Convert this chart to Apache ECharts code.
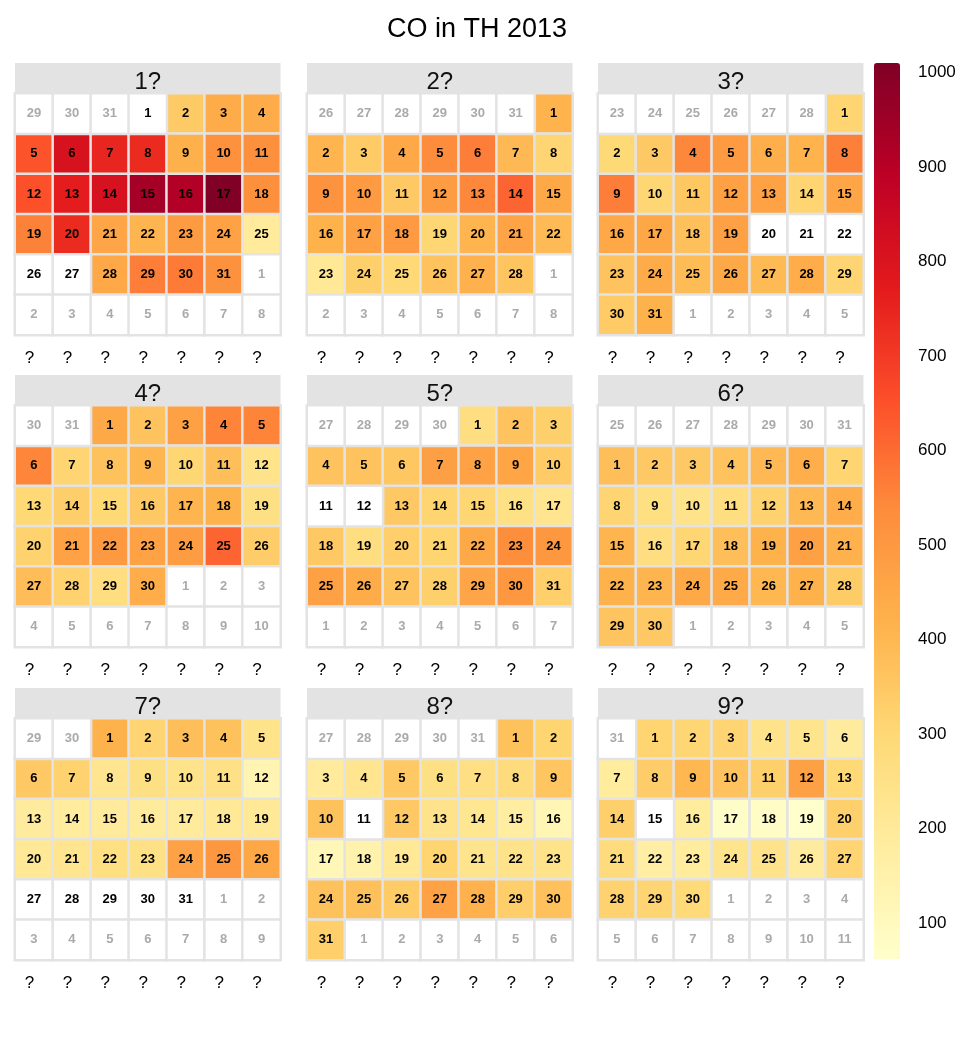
<!DOCTYPE html>
<html>
<head>
<meta charset="utf-8">
<title>CO in TH 2013</title>
<script src="https://cdn.jsdelivr.net/npm/echarts@6/dist/echarts.min.js"></script>
<style>
  html, body { margin: 0; padding: 0; background: #fff; }
  #main { width: 977px; height: 1048px; }
</style>
</head>
<body>
<div id="main"></div>
<script>
// 每月日均值 (null = 缺测)
const jan = [null, 345, 440, 440, 645, 810, 748, 736, 422, 523, 525, 650, 768, 815, 938, 910, 1010, 525, 557, 735, 455, 410, 490, 468, 195, null, null, 450, 565, 572, 520];
const feb = [415, 410, 342, 450, 538, 565, 395, 310, 518, 495, 350, 488, 545, 611, 445, 418, 475, 495, 308, 410, 462, 393, 205, 326, 300, 366, 420, 362];
const mar = [312, 295, 350, 545, 495, 428, 415, 560, 565, 308, 355, 472, 470, 310, 458, 448, 452, 375, 472, null, null, null, 366, 440, 388, 445, 393, 432, 310, 343, 418];
const apr = [445, 366, 475, 553, 553, 550, 310, 370, 405, 308, 378, 240, 298, 333, 300, 348, 410, 418, 260, 318, 470, 498, 470, 488, 611, 336, 385, 318, 270, 432];
const may = [270, 366, 326, 366, 366, 355, 478, 470, 460, 342, null, null, 348, 312, 308, 258, 225, 348, 270, 330, 312, 445, 533, 500, 475, 440, 366, 326, 455, 500, 330];
const jun = [378, 350, 350, 366, 395, 428, 312, 310, 265, 240, 268, 318, 395, 432, 410, 270, 305, 378, 418, 475, 420, 418, 410, 445, 442, 403, 418, 340, 363, 350];
const jul = [418, 310, 378, 370, 240, 348, 318, 225, 260, 240, 252, 135, 190, 188, 195, 193, 195, 205, 205, 207, 225, 265, 258, 470, 505, 452, null, null, null, null, null];
const aug = [370, 312, 195, 225, 350, 260, 262, 280, 360, 370, null, 350, 238, 222, 178, 125, 115, 145, 205, 312, 232, 240, 240, 370, 375, 342, 470, 420, 333, 372, 330];
const sep = [312, 308, 310, 240, 232, 190, 188, 338, 403, 366, 326, 475, 300, 326, null, 188, 75, 80, 62, 326, 280, 172, 188, 232, 240, 190, 310, 318, 310, 292];

const monthValues = [jan, feb, mar, apr, may, jun, jul, aug, sep];
const monthLabels = ['1?', '2?', '3?', '4?', '5?', '6?', '7?', '8?', '9?'];
const weekdayLabels = ['?', '?', '?', '?', '?', '?', '?'];
const year = 2013;
const colorMin = 62;
const colorMax = 1010;

const heatColors = ['#FFFFCC', '#FFEDA0', '#FED976', '#FEB24C', '#FD8D3C', '#FC4E2A', '#E31A1C', '#BD0026', '#800026'];
const fontFamily = '"Liberation Sans", Arial, sans-serif';

// 面板位置
const panelLeft = [15, 307, 598];
const panelTop = [63, 375, 688];
const panelWidth = 265.5;
const stripHeight = 30.5;
const cellAreaHeight = 241.5;

// 日历格子: 周六开头, 42 格; 有值的格子和空白格子分开
const buildCells = (m, values) => {
  const first = new Date(year, m, 1).getDay();
  let offset = (first - 6 + 7) % 7;
  if (offset === 0) offset = 7;
  const dim = new Date(year, m + 1, 0).getDate();
  const prevDim = new Date(year, m, 0).getDate();
  const filled = [];
  const blank = [];
  for (let i = 0; i < 42; i++) {
    const col = i % 7;
    const row = Math.floor(i / 7);
    if (i < offset) {
      blank.push({ value: [col, row, 0, prevDim - offset + 1 + i], label: { color: '#aaaaaa' } });
    } else if (i < offset + dim) {
      const d = i - offset + 1;
      const v = values[d - 1];
      if (v == null) {
        blank.push({ value: [col, row, 0, d], label: { color: '#000' } });
      } else {
        filled.push({ value: [col, row, v, d], label: { color: '#000' } });
      }
    } else {
      blank.push({ value: [col, row, 0, i - offset - dim + 1], label: { color: '#aaaaaa' } });
    }
  }
  return { filled, blank };
};

const grids = [];
const xAxes = [];
const yAxes = [];
const valueSeries = [];
const blankSeries = [];
const graphics = [];

const cellLabel = {
  show: true, fontSize: 13, fontWeight: 'bold', fontFamily: fontFamily,
  formatter: (p) => p.value[3]
};
const cellStyle = { borderColor: '#e3e3e3', borderWidth: 2.5 };

monthValues.forEach((values, m) => {
  const left = panelLeft[m % 3];
  const top = panelTop[Math.floor(m / 3)];
  const cells = buildCells(m, values);
  grids.push({ left: left, top: top + stripHeight, width: panelWidth, height: cellAreaHeight });
  xAxes.push({
    type: 'category', gridIndex: m, data: weekdayLabels, position: 'bottom',
    axisLine: { show: false }, axisTick: { show: false }, splitLine: { show: false },
    axisLabel: { margin: 15, fontSize: 17, color: '#000', fontFamily: fontFamily, padding: [0, 9, 0, 0] }
  });
  yAxes.push({
    type: 'category', gridIndex: m, data: [0, 1, 2, 3, 4, 5], inverse: true,
    axisLine: { show: false }, axisTick: { show: false }, axisLabel: { show: false }, splitLine: { show: false }
  });
  valueSeries.push({
    type: 'heatmap', xAxisIndex: m, yAxisIndex: m,
    data: cells.filled, itemStyle: cellStyle, label: cellLabel,
    emphasis: { disabled: true }
  });
  blankSeries.push({
    type: 'heatmap', xAxisIndex: m, yAxisIndex: m,
    data: cells.blank, itemStyle: cellStyle, label: cellLabel,
    emphasis: { disabled: true }
  });
  graphics.push({
    type: 'rect', silent: true,
    shape: { x: left, y: top, width: panelWidth, height: stripHeight },
    style: { fill: '#e3e3e3' }
  });
  graphics.push({
    type: 'text', silent: true,
    style: {
      text: monthLabels[m], x: left + panelWidth / 2, y: top + 19,
      align: 'center', verticalAlign: 'middle',
      font: '24px ' + fontFamily, fill: '#111'
    }
  });
});

// 色标刻度
grids.push({ left: 874, top: 63, width: 26, height: 896 });
xAxes.push({ type: 'value', gridIndex: 9, show: false });
yAxes.push({
  type: 'value', gridIndex: 9, position: 'right', min: colorMin, max: colorMax, splitNumber: 10,
  axisLine: { show: false }, axisTick: { show: false }, splitLine: { show: false },
  axisLabel: {
    margin: 18, fontSize: 17, color: '#000', fontFamily: fontFamily,
    formatter: (v) => (v % 100 === 0 ? String(v) : '')
  }
});

const series = valueSeries.concat(blankSeries);

const chart = echarts.init(document.getElementById('main'));
chart.setOption({
  animation: false,
  title: {
    text: 'CO in TH 2013', left: 477, textAlign: 'center', top: 16, padding: 0,
    textStyle: { fontSize: 27, fontWeight: 'normal', color: '#000', fontFamily: fontFamily }
  },
  grid: grids,
  xAxis: xAxes,
  yAxis: yAxes,
  visualMap: [
    {
      type: 'continuous', min: colorMin, max: colorMax, calculable: false, dimension: 2,
      orient: 'vertical', left: 874, top: 63, itemWidth: 26, itemHeight: 896, padding: 0,
      text: null, showLabel: false, hoverLink: false,
      seriesIndex: valueSeries.map((s, i) => i),
      inRange: { color: heatColors }
    },
    {
      type: 'piecewise', show: false, dimension: 2,
      seriesIndex: blankSeries.map((s, i) => i + valueSeries.length),
      pieces: [{ min: -1, max: 1, color: '#ffffff' }]
    }
  ],
  graphic: graphics,
  series: series
});
</script>
</body>
</html>
